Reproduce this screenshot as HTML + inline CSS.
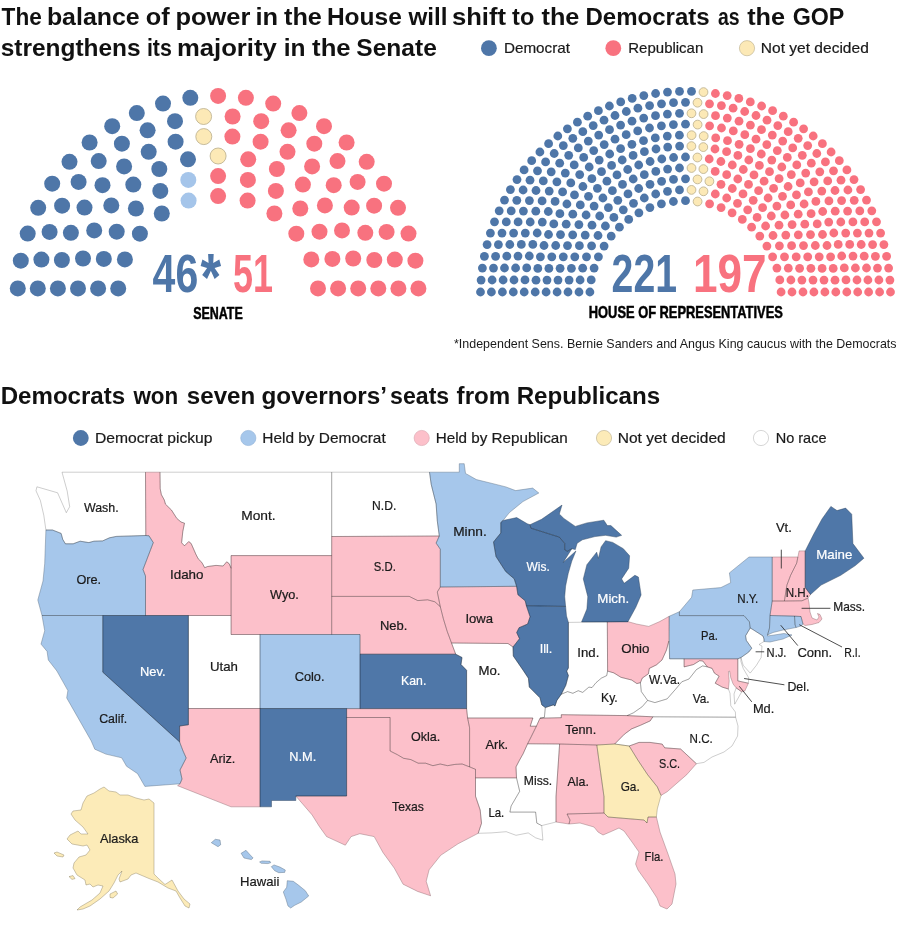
<!DOCTYPE html>
<html lang="en"><head><meta charset="utf-8"><title>Balance of power</title>
<style>html,body{margin:0;padding:0;background:#fff}svg{display:block}text{white-space:pre}</style></head>
<body>
<svg width="900" height="926" viewBox="0 0 900 926" font-family="'Liberation Sans', Arial, sans-serif" fill="#1a1a1a">
<rect width="900" height="926" fill="#fff"/>
<g font-weight="bold" fill="#111">
<text y="24.5" font-size="24.6"><tspan x="1.6" textLength="40.2" lengthAdjust="spacingAndGlyphs">The</tspan> <tspan x="46.9" textLength="92.8" lengthAdjust="spacingAndGlyphs">balance</tspan> <tspan x="145.7" textLength="23.9" lengthAdjust="spacingAndGlyphs">of</tspan> <tspan x="175.5" textLength="74.9" lengthAdjust="spacingAndGlyphs">power</tspan> <tspan x="255.5" textLength="22.6" lengthAdjust="spacingAndGlyphs">in</tspan> <tspan x="284" textLength="37.9" lengthAdjust="spacingAndGlyphs">the</tspan> <tspan x="326.9" textLength="74.9" lengthAdjust="spacingAndGlyphs">House</tspan> <tspan x="408.5" textLength="39.1" lengthAdjust="spacingAndGlyphs">will</tspan> <tspan x="451.9" textLength="54.1" lengthAdjust="spacingAndGlyphs">shift</tspan> <tspan x="512.1" textLength="22.2" lengthAdjust="spacingAndGlyphs">to</tspan> <tspan x="541.5" textLength="37.9" lengthAdjust="spacingAndGlyphs">the</tspan> <tspan x="585.5" textLength="124.1" lengthAdjust="spacingAndGlyphs">Democrats</tspan> <tspan x="718" textLength="21.6" lengthAdjust="spacingAndGlyphs">as</tspan> <tspan x="747.2" textLength="37.9" lengthAdjust="spacingAndGlyphs">the</tspan> <tspan x="792.7" textLength="51.7" lengthAdjust="spacingAndGlyphs">GOP</tspan></text>
<text y="55.5" font-size="24.6"><tspan x="0.7" textLength="139.9" lengthAdjust="spacingAndGlyphs">strengthens</tspan> <tspan x="146.9" textLength="24.9" lengthAdjust="spacingAndGlyphs">its</tspan> <tspan x="176.9" textLength="99.9" lengthAdjust="spacingAndGlyphs">majority</tspan> <tspan x="283.8" textLength="21.8" lengthAdjust="spacingAndGlyphs">in</tspan> <tspan x="312.1" textLength="38.5" lengthAdjust="spacingAndGlyphs">the</tspan> <tspan x="356.3" textLength="80.5" lengthAdjust="spacingAndGlyphs">Senate</tspan></text>
<text y="403.8" font-size="24.6"><tspan x="0.7" textLength="124.5" lengthAdjust="spacingAndGlyphs">Democrats</tspan> <tspan x="133.4" textLength="44.8" lengthAdjust="spacingAndGlyphs">won</tspan> <tspan x="186.8" textLength="68.4" lengthAdjust="spacingAndGlyphs">seven</tspan> <tspan x="261.5" textLength="124.2" lengthAdjust="spacingAndGlyphs">governors’</tspan> <tspan x="390.1" textLength="59.1" lengthAdjust="spacingAndGlyphs">seats</tspan> <tspan x="456.6" textLength="53.6" lengthAdjust="spacingAndGlyphs">from</tspan> <tspan x="516.7" textLength="143.5" lengthAdjust="spacingAndGlyphs">Republicans</tspan></text>
</g>
<g stroke="#1a1a1a" stroke-width="0.2">
<circle cx="488.9" cy="48.2" r="7.9" fill="#4e76a8" stroke="none"/>
<text x="503.9" y="53" font-size="14.6" textLength="66.1" lengthAdjust="spacingAndGlyphs">Democrat</text>
<circle cx="613.3" cy="48.2" r="7.9" fill="#f8727f" stroke="none"/>
<text x="628.3" y="53" font-size="14.6" textLength="75" lengthAdjust="spacingAndGlyphs">Republican</text>
<circle cx="747" cy="48.2" r="7.6" fill="#fce9b6" stroke="#b9ad8c" stroke-width="0.6"/>
<text x="760.8" y="53" font-size="14.6" textLength="108" lengthAdjust="spacingAndGlyphs">Not yet decided</text>
</g>
<g fill="#4e76a8">
<circle cx="118.2" cy="288.4" r="8"/><circle cx="124.9" cy="259.4" r="8"/><circle cx="139.9" cy="233.7" r="8"/><circle cx="161.8" cy="213.5" r="8"/><circle cx="98.1" cy="288.4" r="8"/><circle cx="103.8" cy="258.9" r="8"/><circle cx="116.7" cy="231.7" r="8"/><circle cx="135.9" cy="208.5" r="8"/><circle cx="160.3" cy="190.9" r="8"/><circle cx="78" cy="288.4" r="8"/><circle cx="83" cy="258.5" r="8"/><circle cx="94.2" cy="230.4" r="8"/><circle cx="111.3" cy="205.4" r="8"/><circle cx="133.3" cy="184.6" r="8"/><circle cx="159.3" cy="169" r="8"/><circle cx="188" cy="159.3" r="8"/><circle cx="57.9" cy="288.4" r="8"/><circle cx="61.9" cy="260" r="8"/><circle cx="70.9" cy="232.8" r="8"/><circle cx="84.5" cy="207.6" r="8"/><circle cx="102.5" cy="185.2" r="8"/><circle cx="124.1" cy="166.4" r="8"/><circle cx="148.7" cy="151.8" r="8"/><circle cx="175.6" cy="141.7" r="8"/><circle cx="37.8" cy="288.4" r="8"/><circle cx="41.4" cy="259.6" r="8"/><circle cx="49.6" cy="231.9" r="8"/><circle cx="62.1" cy="205.7" r="8"/><circle cx="78.6" cy="181.9" r="8"/><circle cx="98.7" cy="161.1" r="8"/><circle cx="121.9" cy="143.7" r="8"/><circle cx="147.6" cy="130.3" r="8"/><circle cx="175" cy="121.2" r="8"/><circle cx="17.8" cy="288.4" r="8"/><circle cx="20.8" cy="260.7" r="8"/><circle cx="27.7" cy="233.6" r="8"/><circle cx="38.2" cy="207.8" r="8"/><circle cx="52.2" cy="183.7" r="8"/><circle cx="69.5" cy="161.8" r="8"/><circle cx="89.6" cy="142.5" r="8"/><circle cx="112.2" cy="126.2" r="8"/><circle cx="136.8" cy="113.1" r="8"/><circle cx="163" cy="103.6" r="8"/><circle cx="190.3" cy="97.8" r="8"/>
</g>
<g fill="#a5c5ea">
<circle cx="188.6" cy="200.6" r="8"/><circle cx="188.3" cy="179.9" r="8"/>
</g>
<g fill="#f8727f">
<circle cx="218.1" cy="196.1" r="8"/><circle cx="247.6" cy="200.6" r="8"/><circle cx="274.4" cy="213.5" r="8"/><circle cx="296.3" cy="233.7" r="8"/><circle cx="311.3" cy="259.4" r="8"/><circle cx="318" cy="288.4" r="8"/><circle cx="218.1" cy="176.1" r="8"/><circle cx="247.9" cy="179.9" r="8"/><circle cx="275.9" cy="190.9" r="8"/><circle cx="300.3" cy="208.5" r="8"/><circle cx="319.5" cy="231.7" r="8"/><circle cx="332.4" cy="258.9" r="8"/><circle cx="338.1" cy="288.4" r="8"/><circle cx="248.2" cy="159.3" r="8"/><circle cx="276.9" cy="169" r="8"/><circle cx="302.9" cy="184.6" r="8"/><circle cx="324.9" cy="205.4" r="8"/><circle cx="342" cy="230.4" r="8"/><circle cx="353.2" cy="258.5" r="8"/><circle cx="358.2" cy="288.4" r="8"/><circle cx="232.4" cy="136.6" r="8"/><circle cx="260.6" cy="141.7" r="8"/><circle cx="287.5" cy="151.8" r="8"/><circle cx="312.1" cy="166.4" r="8"/><circle cx="333.7" cy="185.2" r="8"/><circle cx="351.7" cy="207.6" r="8"/><circle cx="365.3" cy="232.8" r="8"/><circle cx="374.3" cy="260" r="8"/><circle cx="378.3" cy="288.4" r="8"/><circle cx="232.6" cy="116.5" r="8"/><circle cx="261.2" cy="121.2" r="8"/><circle cx="288.6" cy="130.3" r="8"/><circle cx="314.3" cy="143.7" r="8"/><circle cx="337.5" cy="161.1" r="8"/><circle cx="357.6" cy="181.9" r="8"/><circle cx="374.1" cy="205.7" r="8"/><circle cx="386.6" cy="231.9" r="8"/><circle cx="394.8" cy="259.6" r="8"/><circle cx="398.4" cy="288.4" r="8"/><circle cx="218.1" cy="95.9" r="8"/><circle cx="245.9" cy="97.8" r="8"/><circle cx="273.2" cy="103.6" r="8"/><circle cx="299.4" cy="113.1" r="8"/><circle cx="324" cy="126.2" r="8"/><circle cx="346.6" cy="142.5" r="8"/><circle cx="366.7" cy="161.8" r="8"/><circle cx="384" cy="183.7" r="8"/><circle cx="398" cy="207.8" r="8"/><circle cx="408.5" cy="233.6" r="8"/><circle cx="415.4" cy="260.7" r="8"/><circle cx="418.4" cy="288.4" r="8"/>
</g>
<g fill="#fce9b6" stroke="#b9ad8c" stroke-width="0.8">
<circle cx="218.1" cy="156" r="8"/><circle cx="203.8" cy="136.6" r="8"/><circle cx="203.6" cy="116.5" r="8"/>
</g>
<g fill="#4e76a8">
<circle cx="589.9" cy="292" r="4.4"/><circle cx="591.2" cy="279.9" r="4.4"/><circle cx="594.1" cy="268.1" r="4.4"/><circle cx="598.4" cy="256.8" r="4.4"/><circle cx="604.1" cy="246.1" r="4.4"/><circle cx="611.2" cy="236.1" r="4.4"/><circle cx="619.4" cy="227.2" r="4.4"/><circle cx="628.7" cy="219.4" r="4.4"/><circle cx="638.9" cy="212.8" r="4.4"/><circle cx="649.9" cy="207.6" r="4.4"/><circle cx="661.4" cy="203.8" r="4.4"/><circle cx="673.4" cy="201.5" r="4.4"/><circle cx="685.5" cy="200.7" r="4.4"/><circle cx="579" cy="292" r="4.4"/><circle cx="580.1" cy="280" r="4.4"/><circle cx="582.7" cy="268.2" r="4.4"/><circle cx="586.5" cy="256.8" r="4.4"/><circle cx="591.6" cy="245.8" r="4.4"/><circle cx="598" cy="235.5" r="4.4"/><circle cx="605.4" cy="226" r="4.4"/><circle cx="613.9" cy="217.4" r="4.4"/><circle cx="623.3" cy="209.8" r="4.4"/><circle cx="633.5" cy="203.3" r="4.4"/><circle cx="644.3" cy="198" r="4.4"/><circle cx="655.7" cy="194" r="4.4"/><circle cx="667.5" cy="191.3" r="4.4"/><circle cx="679.5" cy="189.9" r="4.4"/><circle cx="568" cy="292" r="4.4"/><circle cx="569.1" cy="280.1" r="4.4"/><circle cx="571.4" cy="268.3" r="4.4"/><circle cx="574.8" cy="256.8" r="4.4"/><circle cx="579.4" cy="245.7" r="4.4"/><circle cx="585.2" cy="235.1" r="4.4"/><circle cx="592" cy="225.2" r="4.4"/><circle cx="599.7" cy="216" r="4.4"/><circle cx="608.4" cy="207.7" r="4.4"/><circle cx="617.8" cy="200.3" r="4.4"/><circle cx="628" cy="193.9" r="4.4"/><circle cx="638.7" cy="188.5" r="4.4"/><circle cx="650" cy="184.3" r="4.4"/><circle cx="661.6" cy="181.3" r="4.4"/><circle cx="673.5" cy="179.4" r="4.4"/><circle cx="685.5" cy="178.8" r="4.4"/><circle cx="557.1" cy="292" r="4.4"/><circle cx="558" cy="280.1" r="4.4"/><circle cx="560.1" cy="268.3" r="4.4"/><circle cx="563.3" cy="256.8" r="4.4"/><circle cx="567.5" cy="245.6" r="4.4"/><circle cx="572.7" cy="234.8" r="4.4"/><circle cx="578.9" cy="224.6" r="4.4"/><circle cx="586.1" cy="215" r="4.4"/><circle cx="594.1" cy="206.1" r="4.4"/><circle cx="602.9" cy="198" r="4.4"/><circle cx="612.4" cy="190.7" r="4.4"/><circle cx="622.5" cy="184.4" r="4.4"/><circle cx="633.2" cy="179" r="4.4"/><circle cx="644.3" cy="174.7" r="4.4"/><circle cx="655.8" cy="171.4" r="4.4"/><circle cx="667.6" cy="169.1" r="4.4"/><circle cx="679.5" cy="168" r="4.4"/><circle cx="546.1" cy="292" r="4.4"/><circle cx="547" cy="280.1" r="4.4"/><circle cx="548.9" cy="268.4" r="4.4"/><circle cx="551.8" cy="256.8" r="4.4"/><circle cx="555.7" cy="245.5" r="4.4"/><circle cx="560.5" cy="234.6" r="4.4"/><circle cx="566.2" cy="224.2" r="4.4"/><circle cx="572.8" cy="214.2" r="4.4"/><circle cx="580.3" cy="204.9" r="4.4"/><circle cx="588.5" cy="196.3" r="4.4"/><circle cx="597.4" cy="188.3" r="4.4"/><circle cx="606.9" cy="181.2" r="4.4"/><circle cx="617" cy="174.9" r="4.4"/><circle cx="627.7" cy="169.5" r="4.4"/><circle cx="638.7" cy="165" r="4.4"/><circle cx="650.1" cy="161.5" r="4.4"/><circle cx="661.8" cy="159" r="4.4"/><circle cx="673.6" cy="157.5" r="4.4"/><circle cx="685.5" cy="157" r="4.4"/><circle cx="535.2" cy="292" r="4.4"/><circle cx="536" cy="280.2" r="4.4"/><circle cx="537.8" cy="268.4" r="4.4"/><circle cx="540.4" cy="256.8" r="4.4"/><circle cx="544" cy="245.5" r="4.4"/><circle cx="548.5" cy="234.5" r="4.4"/><circle cx="553.8" cy="223.9" r="4.4"/><circle cx="559.9" cy="213.7" r="4.4"/><circle cx="566.9" cy="204" r="4.4"/><circle cx="574.5" cy="194.9" r="4.4"/><circle cx="582.9" cy="186.5" r="4.4"/><circle cx="591.9" cy="178.7" r="4.4"/><circle cx="601.5" cy="171.7" r="4.4"/><circle cx="611.6" cy="165.4" r="4.4"/><circle cx="622.2" cy="160" r="4.4"/><circle cx="633.1" cy="155.4" r="4.4"/><circle cx="644.4" cy="151.7" r="4.4"/><circle cx="656" cy="149" r="4.4"/><circle cx="667.7" cy="147.1" r="4.4"/><circle cx="679.6" cy="146.1" r="4.4"/><circle cx="524.2" cy="292" r="4.4"/><circle cx="525" cy="279.9" r="4.4"/><circle cx="526.7" cy="267.9" r="4.4"/><circle cx="529.3" cy="256" r="4.4"/><circle cx="532.8" cy="244.4" r="4.4"/><circle cx="537.2" cy="233" r="4.4"/><circle cx="542.3" cy="222.1" r="4.4"/><circle cx="548.3" cy="211.5" r="4.4"/><circle cx="555.1" cy="201.4" r="4.4"/><circle cx="562.6" cy="191.9" r="4.4"/><circle cx="570.8" cy="182.9" r="4.4"/><circle cx="579.7" cy="174.6" r="4.4"/><circle cx="589.2" cy="167" r="4.4"/><circle cx="599.2" cy="160.1" r="4.4"/><circle cx="609.7" cy="154" r="4.4"/><circle cx="620.6" cy="148.7" r="4.4"/><circle cx="631.9" cy="144.3" r="4.4"/><circle cx="643.5" cy="140.7" r="4.4"/><circle cx="655.3" cy="137.9" r="4.4"/><circle cx="667.3" cy="136.1" r="4.4"/><circle cx="679.4" cy="135.2" r="4.4"/><circle cx="513.3" cy="292" r="4.4"/><circle cx="514" cy="280" r="4.4"/><circle cx="515.6" cy="268" r="4.4"/><circle cx="518" cy="256.1" r="4.4"/><circle cx="521.3" cy="244.4" r="4.4"/><circle cx="525.3" cy="233.1" r="4.4"/><circle cx="530.2" cy="222" r="4.4"/><circle cx="535.8" cy="211.2" r="4.4"/><circle cx="542.1" cy="200.9" r="4.4"/><circle cx="549.2" cy="191.1" r="4.4"/><circle cx="556.9" cy="181.8" r="4.4"/><circle cx="565.3" cy="173.1" r="4.4"/><circle cx="574.2" cy="164.9" r="4.4"/><circle cx="583.7" cy="157.4" r="4.4"/><circle cx="593.7" cy="150.6" r="4.4"/><circle cx="604.2" cy="144.6" r="4.4"/><circle cx="615" cy="139.2" r="4.4"/><circle cx="626.2" cy="134.7" r="4.4"/><circle cx="637.7" cy="130.9" r="4.4"/><circle cx="649.5" cy="128" r="4.4"/><circle cx="661.4" cy="125.8" r="4.4"/><circle cx="673.4" cy="124.6" r="4.4"/><circle cx="685.5" cy="124.2" r="4.4"/><circle cx="502.4" cy="292" r="4.4"/><circle cx="503.1" cy="280" r="4.4"/><circle cx="504.5" cy="268" r="4.4"/><circle cx="506.8" cy="256.2" r="4.4"/><circle cx="509.8" cy="244.5" r="4.4"/><circle cx="513.6" cy="233.1" r="4.4"/><circle cx="518.1" cy="221.9" r="4.4"/><circle cx="523.4" cy="211.1" r="4.4"/><circle cx="529.4" cy="200.6" r="4.4"/><circle cx="536" cy="190.5" r="4.4"/><circle cx="543.3" cy="180.9" r="4.4"/><circle cx="551.2" cy="171.8" r="4.4"/><circle cx="559.7" cy="163.2" r="4.4"/><circle cx="568.7" cy="155.3" r="4.4"/><circle cx="578.3" cy="147.9" r="4.4"/><circle cx="588.3" cy="141.1" r="4.4"/><circle cx="598.7" cy="135.1" r="4.4"/><circle cx="609.5" cy="129.7" r="4.4"/><circle cx="620.6" cy="125.1" r="4.4"/><circle cx="632" cy="121.2" r="4.4"/><circle cx="643.7" cy="118.1" r="4.4"/><circle cx="655.5" cy="115.7" r="4.4"/><circle cx="667.4" cy="114.1" r="4.4"/><circle cx="679.5" cy="113.3" r="4.4"/><circle cx="491.4" cy="292" r="4.4"/><circle cx="492.1" cy="280" r="4.4"/><circle cx="493.5" cy="268.1" r="4.4"/><circle cx="495.6" cy="256.3" r="4.4"/><circle cx="498.4" cy="244.6" r="4.4"/><circle cx="502" cy="233.1" r="4.4"/><circle cx="506.3" cy="221.9" r="4.4"/><circle cx="511.2" cy="210.9" r="4.4"/><circle cx="516.8" cy="200.3" r="4.4"/><circle cx="523.1" cy="190" r="4.4"/><circle cx="530" cy="180.2" r="4.4"/><circle cx="537.5" cy="170.8" r="4.4"/><circle cx="545.6" cy="161.9" r="4.4"/><circle cx="554.2" cy="153.5" r="4.4"/><circle cx="563.3" cy="145.6" r="4.4"/><circle cx="572.8" cy="138.3" r="4.4"/><circle cx="582.8" cy="131.7" r="4.4"/><circle cx="593.2" cy="125.6" r="4.4"/><circle cx="604" cy="120.2" r="4.4"/><circle cx="615" cy="115.5" r="4.4"/><circle cx="626.3" cy="111.5" r="4.4"/><circle cx="637.9" cy="108.2" r="4.4"/><circle cx="649.6" cy="105.6" r="4.4"/><circle cx="661.5" cy="103.8" r="4.4"/><circle cx="673.5" cy="102.7" r="4.4"/><circle cx="685.5" cy="102.3" r="4.4"/><circle cx="480.5" cy="292" r="4.4"/><circle cx="481.1" cy="280.1" r="4.4"/><circle cx="482.4" cy="268.1" r="4.4"/><circle cx="484.4" cy="256.3" r="4.4"/><circle cx="487.1" cy="244.6" r="4.4"/><circle cx="490.4" cy="233.1" r="4.4"/><circle cx="494.5" cy="221.8" r="4.4"/><circle cx="499.2" cy="210.8" r="4.4"/><circle cx="504.5" cy="200.1" r="4.4"/><circle cx="510.4" cy="189.6" r="4.4"/><circle cx="517" cy="179.6" r="4.4"/><circle cx="524.1" cy="169.9" r="4.4"/><circle cx="531.7" cy="160.7" r="4.4"/><circle cx="539.9" cy="152" r="4.4"/><circle cx="548.6" cy="143.7" r="4.4"/><circle cx="557.8" cy="136" r="4.4"/><circle cx="567.4" cy="128.8" r="4.4"/><circle cx="577.4" cy="122.2" r="4.4"/><circle cx="587.7" cy="116.2" r="4.4"/><circle cx="598.4" cy="110.7" r="4.4"/><circle cx="609.4" cy="106" r="4.4"/><circle cx="620.7" cy="101.9" r="4.4"/><circle cx="632.2" cy="98.4" r="4.4"/><circle cx="643.8" cy="95.6" r="4.4"/><circle cx="655.6" cy="93.5" r="4.4"/><circle cx="667.5" cy="92.1" r="4.4"/><circle cx="679.5" cy="91.4" r="4.4"/><circle cx="691.5" cy="91.4" r="4.4"/>
</g>
<g fill="#fce9b6" stroke="#b9ad8c" stroke-width="0.8">
<circle cx="697.6" cy="201.5" r="4.4"/><circle cx="691.5" cy="189.9" r="4.4"/><circle cx="703.5" cy="191.3" r="4.4"/><circle cx="697.5" cy="179.4" r="4.4"/><circle cx="709.4" cy="181.3" r="4.4"/><circle cx="691.5" cy="168" r="4.4"/><circle cx="703.4" cy="169.1" r="4.4"/><circle cx="697.4" cy="157.5" r="4.4"/><circle cx="691.4" cy="146.1" r="4.4"/><circle cx="703.3" cy="147.1" r="4.4"/><circle cx="691.6" cy="135.2" r="4.4"/><circle cx="703.7" cy="136.1" r="4.4"/><circle cx="697.6" cy="124.6" r="4.4"/><circle cx="691.5" cy="113.3" r="4.4"/><circle cx="703.6" cy="114.1" r="4.4"/><circle cx="697.5" cy="102.7" r="4.4"/><circle cx="703.5" cy="92.1" r="4.4"/>
</g>
<g fill="#f8727f">
<circle cx="709.6" cy="203.8" r="4.4"/><circle cx="721.1" cy="207.6" r="4.4"/><circle cx="732.1" cy="212.8" r="4.4"/><circle cx="742.3" cy="219.4" r="4.4"/><circle cx="751.6" cy="227.2" r="4.4"/><circle cx="759.8" cy="236.1" r="4.4"/><circle cx="766.9" cy="246.1" r="4.4"/><circle cx="772.6" cy="256.8" r="4.4"/><circle cx="776.9" cy="268.1" r="4.4"/><circle cx="779.8" cy="279.9" r="4.4"/><circle cx="781.1" cy="292" r="4.4"/><circle cx="715.3" cy="194" r="4.4"/><circle cx="726.7" cy="198" r="4.4"/><circle cx="737.5" cy="203.3" r="4.4"/><circle cx="747.7" cy="209.8" r="4.4"/><circle cx="757.1" cy="217.4" r="4.4"/><circle cx="765.6" cy="226" r="4.4"/><circle cx="773" cy="235.5" r="4.4"/><circle cx="779.4" cy="245.8" r="4.4"/><circle cx="784.5" cy="256.8" r="4.4"/><circle cx="788.3" cy="268.2" r="4.4"/><circle cx="790.9" cy="280" r="4.4"/><circle cx="792" cy="292" r="4.4"/><circle cx="721" cy="184.3" r="4.4"/><circle cx="732.3" cy="188.5" r="4.4"/><circle cx="743" cy="193.9" r="4.4"/><circle cx="753.2" cy="200.3" r="4.4"/><circle cx="762.6" cy="207.7" r="4.4"/><circle cx="771.3" cy="216" r="4.4"/><circle cx="779" cy="225.2" r="4.4"/><circle cx="785.8" cy="235.1" r="4.4"/><circle cx="791.6" cy="245.7" r="4.4"/><circle cx="796.2" cy="256.8" r="4.4"/><circle cx="799.6" cy="268.3" r="4.4"/><circle cx="801.9" cy="280.1" r="4.4"/><circle cx="803" cy="292" r="4.4"/><circle cx="715.2" cy="171.4" r="4.4"/><circle cx="726.7" cy="174.7" r="4.4"/><circle cx="737.8" cy="179" r="4.4"/><circle cx="748.5" cy="184.4" r="4.4"/><circle cx="758.6" cy="190.7" r="4.4"/><circle cx="768.1" cy="198" r="4.4"/><circle cx="776.9" cy="206.1" r="4.4"/><circle cx="784.9" cy="215" r="4.4"/><circle cx="792.1" cy="224.6" r="4.4"/><circle cx="798.3" cy="234.8" r="4.4"/><circle cx="803.5" cy="245.6" r="4.4"/><circle cx="807.7" cy="256.8" r="4.4"/><circle cx="810.9" cy="268.3" r="4.4"/><circle cx="813" cy="280.1" r="4.4"/><circle cx="813.9" cy="292" r="4.4"/><circle cx="709.2" cy="159" r="4.4"/><circle cx="720.9" cy="161.5" r="4.4"/><circle cx="732.3" cy="165" r="4.4"/><circle cx="743.3" cy="169.5" r="4.4"/><circle cx="754" cy="174.9" r="4.4"/><circle cx="764.1" cy="181.2" r="4.4"/><circle cx="773.6" cy="188.3" r="4.4"/><circle cx="782.5" cy="196.3" r="4.4"/><circle cx="790.7" cy="204.9" r="4.4"/><circle cx="798.2" cy="214.2" r="4.4"/><circle cx="804.8" cy="224.2" r="4.4"/><circle cx="810.5" cy="234.6" r="4.4"/><circle cx="815.3" cy="245.5" r="4.4"/><circle cx="819.2" cy="256.8" r="4.4"/><circle cx="822.1" cy="268.4" r="4.4"/><circle cx="824" cy="280.1" r="4.4"/><circle cx="824.9" cy="292" r="4.4"/><circle cx="715" cy="149" r="4.4"/><circle cx="726.6" cy="151.7" r="4.4"/><circle cx="737.9" cy="155.4" r="4.4"/><circle cx="748.8" cy="160" r="4.4"/><circle cx="759.4" cy="165.4" r="4.4"/><circle cx="769.5" cy="171.7" r="4.4"/><circle cx="779.1" cy="178.7" r="4.4"/><circle cx="788.1" cy="186.5" r="4.4"/><circle cx="796.5" cy="194.9" r="4.4"/><circle cx="804.1" cy="204" r="4.4"/><circle cx="811.1" cy="213.7" r="4.4"/><circle cx="817.2" cy="223.9" r="4.4"/><circle cx="822.5" cy="234.5" r="4.4"/><circle cx="827" cy="245.5" r="4.4"/><circle cx="830.6" cy="256.8" r="4.4"/><circle cx="833.2" cy="268.4" r="4.4"/><circle cx="835" cy="280.2" r="4.4"/><circle cx="835.8" cy="292" r="4.4"/><circle cx="715.7" cy="137.9" r="4.4"/><circle cx="727.5" cy="140.7" r="4.4"/><circle cx="739.1" cy="144.3" r="4.4"/><circle cx="750.4" cy="148.7" r="4.4"/><circle cx="761.3" cy="154" r="4.4"/><circle cx="771.8" cy="160.1" r="4.4"/><circle cx="781.8" cy="167" r="4.4"/><circle cx="791.3" cy="174.6" r="4.4"/><circle cx="800.2" cy="182.9" r="4.4"/><circle cx="808.4" cy="191.9" r="4.4"/><circle cx="815.9" cy="201.4" r="4.4"/><circle cx="822.7" cy="211.5" r="4.4"/><circle cx="828.7" cy="222.1" r="4.4"/><circle cx="833.8" cy="233" r="4.4"/><circle cx="838.2" cy="244.4" r="4.4"/><circle cx="841.7" cy="256" r="4.4"/><circle cx="844.3" cy="267.9" r="4.4"/><circle cx="846" cy="279.9" r="4.4"/><circle cx="846.8" cy="292" r="4.4"/><circle cx="709.6" cy="125.8" r="4.4"/><circle cx="721.5" cy="128" r="4.4"/><circle cx="733.3" cy="130.9" r="4.4"/><circle cx="744.8" cy="134.7" r="4.4"/><circle cx="756" cy="139.2" r="4.4"/><circle cx="766.8" cy="144.6" r="4.4"/><circle cx="777.3" cy="150.6" r="4.4"/><circle cx="787.3" cy="157.4" r="4.4"/><circle cx="796.8" cy="164.9" r="4.4"/><circle cx="805.7" cy="173.1" r="4.4"/><circle cx="814.1" cy="181.8" r="4.4"/><circle cx="821.8" cy="191.1" r="4.4"/><circle cx="828.9" cy="200.9" r="4.4"/><circle cx="835.2" cy="211.2" r="4.4"/><circle cx="840.8" cy="222" r="4.4"/><circle cx="845.7" cy="233.1" r="4.4"/><circle cx="849.7" cy="244.4" r="4.4"/><circle cx="853" cy="256.1" r="4.4"/><circle cx="855.4" cy="268" r="4.4"/><circle cx="857" cy="280" r="4.4"/><circle cx="857.7" cy="292" r="4.4"/><circle cx="715.5" cy="115.7" r="4.4"/><circle cx="727.3" cy="118.1" r="4.4"/><circle cx="739" cy="121.2" r="4.4"/><circle cx="750.4" cy="125.1" r="4.4"/><circle cx="761.5" cy="129.7" r="4.4"/><circle cx="772.3" cy="135.1" r="4.4"/><circle cx="782.7" cy="141.1" r="4.4"/><circle cx="792.7" cy="147.9" r="4.4"/><circle cx="802.3" cy="155.3" r="4.4"/><circle cx="811.3" cy="163.2" r="4.4"/><circle cx="819.8" cy="171.8" r="4.4"/><circle cx="827.7" cy="180.9" r="4.4"/><circle cx="835" cy="190.5" r="4.4"/><circle cx="841.6" cy="200.6" r="4.4"/><circle cx="847.6" cy="211.1" r="4.4"/><circle cx="852.9" cy="221.9" r="4.4"/><circle cx="857.4" cy="233.1" r="4.4"/><circle cx="861.2" cy="244.5" r="4.4"/><circle cx="864.2" cy="256.2" r="4.4"/><circle cx="866.5" cy="268" r="4.4"/><circle cx="867.9" cy="280" r="4.4"/><circle cx="868.6" cy="292" r="4.4"/><circle cx="709.5" cy="103.8" r="4.4"/><circle cx="721.4" cy="105.6" r="4.4"/><circle cx="733.1" cy="108.2" r="4.4"/><circle cx="744.7" cy="111.5" r="4.4"/><circle cx="756" cy="115.5" r="4.4"/><circle cx="767" cy="120.2" r="4.4"/><circle cx="777.8" cy="125.6" r="4.4"/><circle cx="788.2" cy="131.7" r="4.4"/><circle cx="798.2" cy="138.3" r="4.4"/><circle cx="807.7" cy="145.6" r="4.4"/><circle cx="816.8" cy="153.5" r="4.4"/><circle cx="825.4" cy="161.9" r="4.4"/><circle cx="833.5" cy="170.8" r="4.4"/><circle cx="841" cy="180.2" r="4.4"/><circle cx="847.9" cy="190" r="4.4"/><circle cx="854.2" cy="200.3" r="4.4"/><circle cx="859.8" cy="210.9" r="4.4"/><circle cx="864.7" cy="221.9" r="4.4"/><circle cx="869" cy="233.1" r="4.4"/><circle cx="872.6" cy="244.6" r="4.4"/><circle cx="875.4" cy="256.3" r="4.4"/><circle cx="877.5" cy="268.1" r="4.4"/><circle cx="878.9" cy="280" r="4.4"/><circle cx="879.6" cy="292" r="4.4"/><circle cx="715.4" cy="93.5" r="4.4"/><circle cx="727.2" cy="95.6" r="4.4"/><circle cx="738.8" cy="98.4" r="4.4"/><circle cx="750.3" cy="101.9" r="4.4"/><circle cx="761.6" cy="106" r="4.4"/><circle cx="772.6" cy="110.7" r="4.4"/><circle cx="783.3" cy="116.2" r="4.4"/><circle cx="793.6" cy="122.2" r="4.4"/><circle cx="803.6" cy="128.8" r="4.4"/><circle cx="813.2" cy="136" r="4.4"/><circle cx="822.4" cy="143.7" r="4.4"/><circle cx="831.1" cy="152" r="4.4"/><circle cx="839.3" cy="160.7" r="4.4"/><circle cx="846.9" cy="169.9" r="4.4"/><circle cx="854" cy="179.6" r="4.4"/><circle cx="860.6" cy="189.6" r="4.4"/><circle cx="866.5" cy="200.1" r="4.4"/><circle cx="871.8" cy="210.8" r="4.4"/><circle cx="876.5" cy="221.8" r="4.4"/><circle cx="880.6" cy="233.1" r="4.4"/><circle cx="883.9" cy="244.6" r="4.4"/><circle cx="886.6" cy="256.3" r="4.4"/><circle cx="888.6" cy="268.1" r="4.4"/><circle cx="889.9" cy="280.1" r="4.4"/><circle cx="890.5" cy="292" r="4.4"/>
</g>
<g font-weight="bold">
<text x="152.6" y="292" font-size="53" fill="#4e76a8" textLength="45.6" lengthAdjust="spacingAndGlyphs">46</text>
<text x="200.6" y="299.5" font-size="66" fill="#4e76a8" textLength="20.6" lengthAdjust="spacingAndGlyphs">*</text>
<text x="233" y="292" font-size="53" fill="#f8727f" textLength="40" lengthAdjust="spacingAndGlyphs">51</text>
<text x="611.6" y="292" font-size="53" fill="#4e76a8" textLength="65.4" lengthAdjust="spacingAndGlyphs">221</text>
<text x="693" y="292" font-size="53" fill="#f8727f" textLength="73.6" lengthAdjust="spacingAndGlyphs">197</text>
</g>
<g font-weight="bold" fill="#000" stroke="#000" stroke-width="0.5">
<text x="193.2" y="318.5" font-size="16.2" fill="#000" textLength="49.6" lengthAdjust="spacingAndGlyphs">SENATE</text>
<text x="588.8" y="318.2" font-size="16.2" fill="#000" textLength="194" lengthAdjust="spacingAndGlyphs">HOUSE OF REPRESENTATIVES</text>
</g>
<text x="454" y="347.5" font-size="12.8" textLength="442.5" lengthAdjust="spacingAndGlyphs">*Independent Sens. Bernie Sanders and Angus King caucus with the Democrats</text>
<g stroke="#1a1a1a" stroke-width="0.2">
<circle cx="80.8" cy="438" r="7.9" fill="#4f77a8" stroke="none"/>
<text x="95" y="443" font-size="14.6" textLength="117.5" lengthAdjust="spacingAndGlyphs">Democrat pickup</text>
<circle cx="248.3" cy="438" r="7.6" fill="#a6c7eb" stroke="#8fb0d6" stroke-width="0.6"/>
<text x="262.3" y="443" font-size="14.6" textLength="123.4" lengthAdjust="spacingAndGlyphs">Held by Democrat</text>
<circle cx="421.7" cy="438" r="7.6" fill="#fcc0ca" stroke="#d9a3ad" stroke-width="0.6"/>
<text x="435.7" y="443" font-size="14.6" textLength="132" lengthAdjust="spacingAndGlyphs">Held by Republican</text>
<circle cx="604" cy="438" r="7.6" fill="#fcebb8" stroke="#b9ad8c" stroke-width="0.6"/>
<text x="617.7" y="443" font-size="14.6" textLength="108" lengthAdjust="spacingAndGlyphs">Not yet decided</text>
<circle cx="761" cy="438" r="7.6" fill="#fff" stroke="#bbb" stroke-width="0.6"/>
<text x="775.7" y="443" font-size="14.6" textLength="50.8" lengthAdjust="spacingAndGlyphs">No race</text>
</g>
<g stroke-width="0.3" stroke-linejoin="round">
<g fill="#ffffff" stroke="#ffffff">
<path d="M45.9,530 43.8,515.3 40.4,500.6 36,490.8 36.9,486.8 57.6,492.8 66.3,512.7 69.7,506.7 67.2,491.1 62,472.2 145.5,472.2 145.8,535.5 116.4,536.4 109.5,537.8 102.6,540.9 93.9,541.2 88.8,542.6 80.1,541.2 73.2,543.8 65.4,543.8 62.8,539.5 61.1,533.4 52.5,530 45.9,530Z"/>
<path d="M160,472.2 331.7,472.2 331.7,555.6 231.1,555.6 231.1,568.3 229.1,563.6 226.7,561.8 223.1,566 216,565.4 207.7,566.5 204.7,567.7 201.8,562.4 198.2,558.8 195.8,554.1 191.1,543.4 188.7,541.6 184.5,545.8 181.6,542.8 182.8,531.5 184.5,523.2 181,522 176.8,518.4 171.5,510.1 165.5,504.2 164.3,500 161.4,494.7 160.2,488.8 160,472.2Z"/>
<path d="M188.4,615.5 231.1,615.5 231.1,634.5 260,634.5 260,708.5 188.4,708.5Z"/>
<path d="M331.7,472.2 429.5,472.2 431.2,484.4 436.1,504 437.3,521.1 439.3,536 331.7,536.5Z"/>
<path d="M451.5,643 508,643.5 513,647 513.3,656 523.1,670.2 528.4,678.2 529.3,687.1 540,697.8 541.8,704.9 545.3,707.6 544.4,717.3 540,718.2 536.4,726.2 530.2,726.2 532.9,718 467.6,718 466.6,708.6 466.6,670.3 461,664.5 462,657.5 455.7,654.2 451.5,643Z"/>
<path d="M475.5,777.9 516.5,777.9 519.7,791.3 511.1,806 509.9,812.1 535.6,812.1 536.8,823.1 541.7,825.6 542.9,840.2 535.6,837.8 528.2,832.9 516,835.3 506.2,831.7 491.6,832.9 478.2,833.3 481.5,823.3 480.2,810 475.5,796.2 475.5,777.9Z"/>
<path d="M527.6,743.8 559.6,744 556,796.7 556,822 544,825 541.7,825.6 536.8,823.1 535.6,812.1 509.9,812.1 511.1,806 519.7,791.3 516.5,777.9 516,766.9 519.6,760 523.1,753.8Z"/>
<path d="M652.9,716.8 735.6,717.2 738,726 737.6,736 732,746 724,752 712,757 704,762.4 696.4,763.7 680.6,749 664.7,747.8 662.2,744.1 650,742.4 639,742.4 629.2,746 614.7,744 614.7,744 624.4,734.2 631.6,728.9 640.4,725.3 650.2,720.9 652.9,716.8Z"/>
<path d="M627.1,715.6 561.3,714.7 561.3,717.7 540,718.2 544.4,717.3 545.3,707.6 553.3,704.9 555,706 556.9,700.4 561.3,694.2 567.6,691.6 572.9,693.3 578.2,690.7 582.7,692.4 588.9,687.1 592,687.6 596,682.7 601.3,678.2 606.7,675.6 607.6,671.1 613.8,672.9 620.9,677.3 631.6,680 636.9,683.6 640.4,682.7 641.3,691.6 647.6,700.4 642.2,706.7 633.3,712.9 627.1,715.6Z"/>
<path d="M568.4,622.4 607.3,621.9 607.6,671.1 606.7,675.6 601.3,678.2 596,682.7 592,687.6 588.9,687.1 582.7,692.4 578.2,690.7 572.9,693.3 567.6,691.6 561.3,694.2 565.8,685.3 568.4,675.6 566.7,671.1 568.4,668 568.4,622.4Z"/>
<path d="M640.4,682.7 642.2,678.2 648.4,673.8 649.3,668.4 656.4,664.9 662,660 666.5,650 668.8,641 669.6,658.8 684.1,658.8 684.1,666.9 693.4,664.6 699.7,660.7 702.8,661 707.4,666.9 702.6,665.9 696.4,669.6 689,679 681.8,681.8 675.7,689.1 667.1,698.9 654.9,702.6 647.6,700.4 641.3,691.6Z"/>
<path d="M647.6,700.4 654.9,702.6 667.1,698.9 675.7,689.1 681.8,681.8 689,679 696.4,669.6 702.6,665.9 707.4,666.9 712.1,668.4 714.4,673.1 719.1,676.2 715.2,683.2 722.2,687.1 728.4,689 730,693.3 730.8,705.8 735.4,712 735.6,717.2 652.9,716.8 627.1,715.6 633.3,712.9 642.2,706.7 647.6,700.4ZM741.7,691.8 736.2,687.9 734,694 734.7,704.2Z"/>
<path d="M737.8,658.8 740.9,657.6 740.9,661.4 743.2,668.4 748.7,677.8 748.4,683.2 737.8,680.9Z"/>
<path d="M750.2,628 752,629 763,636 764,639 764,641.5 761.5,643 759,644.5 762,646 761.1,657.6 756.4,665.3 750.2,673.1 743.2,665.3 740.9,657.6 748.7,652.1 751.8,648.2 746.3,640.4 745.6,635.8Z"/>
</g>
<g fill="#fcc0ca" stroke="#fcc0ca">
<path d="M145.5,472.2 160,472.2 160.2,488.8 161.4,494.7 164.3,500 165.5,504.2 171.5,510.1 176.8,518.4 181,522 184.5,523.2 182.8,531.5 181.6,542.8 184.5,545.8 188.7,541.6 191.1,543.4 195.8,554.1 198.2,558.8 201.8,562.4 204.7,567.7 207.7,566.5 216,565.4 223.1,566 226.7,561.8 229.1,563.6 231.1,568.3 231.1,615.5 145.5,615.5 145.5,615.5 145.5,576 143,569.5 153.3,542.6 149,535.8 145.8,535.5Z"/>
<path d="M231.1,555.6 331.7,555.6 331.7,634.5 231.1,634.5Z"/>
<path d="M188.4,708.5 260,708.5 260,806.8 231,806.8 177.6,785.7 180,783.8 182,779 180,770 186.2,758 182.8,750.4 179.6,741.9 179.6,726 188.4,724.8Z"/>
<path d="M331.7,536.5 439.3,536 436.1,543.1 440.3,549.2 440.3,587 437.3,592 440.3,606.7 440.3,606.7 434.9,601.8 427.6,599.8 417.8,600.6 409.2,596.4 331.7,596.4Z"/>
<path d="M331.7,596.4 409.2,596.4 417.8,600.6 427.6,599.8 434.9,601.8 440.3,606.7 443.4,618.9 447.1,631.1 451.5,643 455.7,654.2 360,654.2 360,634.5 331.7,634.5Z"/>
<path d="M346.6,708.6 466.6,708.6 467.6,718 469.6,727.8 469.6,766.9 462.2,764 454.9,764.4 447.6,765.7 440.2,764 432.9,765.7 425.6,763.2 418.2,763.2 410.9,759.6 403.6,758.3 397.4,754.7 390.1,751 390.1,717.5 346.6,717.5Z"/>
<path d="M346.6,717.5 390.1,717.5 390.1,751 397.4,754.7 403.6,758.3 410.9,759.6 418.2,763.2 425.6,763.2 432.9,765.7 440.2,764 447.6,765.7 454.9,764.4 462.2,764 469.6,766.9 475.5,769.3 475.5,777.9 475.5,796.2 480.2,810 481.5,823.3 478.2,833.3 458,843.8 440.7,855.3 429.1,869.8 426.2,881.3 430.6,895.8 417.6,891.4 403.1,884.2 394.4,868.3 382.9,852.4 374.2,836.6 359.8,833.7 351.1,836.6 345.3,845.2 326.6,836.6 319.3,826.4 312.1,814.9 295.8,796 346.6,796Z"/>
<path d="M440.3,587 516.6,586.3 517.9,594.7 525.2,600.8 526.4,605.7 530.1,616.7 527.7,624 519.1,627.7 516.7,632.6 519.5,638.7 513,647 508,643.5 451.5,643 447.1,631.1 443.4,618.9 440.3,606.7 437.3,592 440.3,587Z"/>
<path d="M467.6,718 532.9,718 530.2,726.2 536.4,726.2 531.1,736.9 527.6,743.8 523.1,753.8 519.6,760 516,766.9 516.5,777.9 475.5,777.9 475.5,769.3 469.6,766.9 469.6,727.8 467.6,718Z"/>
<path d="M559.6,744 596.8,745 604,796.7 604,813 567,814 570,820 569,824 556,822 556,796.7 559.6,744Z"/>
<path d="M569,824 570,820 567,814 604,813 608,817 644,820 647,823 648,817 656.4,817 660,832 668,854 675,874 676,884 672,904 667,909 660,906 657,898 648,884 638,870 635.6,864 639,852 632,842 624,831 619,828 610,832 603,835 598,832 594,827 580,823 569,824Z"/>
<path d="M629.2,746 639,742.4 650,742.4 662.2,744.1 664.7,747.8 680.6,749 696.4,763.7 686.7,774.7 676.9,783.2 667.1,791.8 661,795.4 657.3,786.9 647.6,774.7 637.8,760 629.2,746Z"/>
<path d="M540,718.2 561.3,717.7 561.3,714.7 627.1,715.6 652.9,716.8 650.2,720.9 640.4,725.3 631.6,728.9 624.4,734.2 614.7,744 596.8,745 559.6,744 527.6,743.8 531.1,736.9 536.4,726.2Z"/>
<path d="M607.3,621.9 626.7,621.3 636.4,624 648.7,626.4 659.7,621.6 669.2,616.3 668.8,641 666.5,650 662,660 656.4,664.9 649.3,668.4 648.4,673.8 642.2,678.2 640.4,682.7 636.9,683.6 631.6,680 620.9,677.3 613.8,672.9 607.6,671.1 607.3,621.9Z"/>
<path d="M684.1,658.8 737.8,658.8 737.8,680.9 748.4,683.2 744.8,691 741.7,691.8 736.2,687.9 733.1,684 730.8,677.8 729.6,671 728.4,671.6 729.2,680.9 728.4,689 722.2,687.1 715.2,683.2 719.1,676.2 714.4,673.1 712.1,668.4 707.4,666.9 702.8,661 699.7,660.7 693.4,664.6 684.1,666.9 684.1,658.8Z"/>
<path d="M772.2,557 797.9,557 796.7,563.1 790.6,575.3 786.9,585.1 784.4,601 772.2,601Z"/>
<path d="M797.9,557 799.1,550.9 805.2,550.9 805.2,587.6 810.5,594.5 808,598 802,600.8 784.4,601 786.9,585.1 790.6,575.3 796.7,563.1Z"/>
<path d="M772.2,601 784.4,601 802,600.8 808,598 809,603 810,612 812,618 817,620 819,617 817.5,613.5 820,614.5 822,619 819,622.5 812,624.5 805,625.5 803,624 801,616.5 770,615.5Z"/>
</g>
<g fill="#a6c7eb" stroke="#a6c7eb">
<path d="M45.9,530 52.5,530 61.1,533.4 62.8,539.5 65.4,543.8 73.2,543.8 80.1,541.2 88.8,542.6 93.9,541.2 102.6,540.9 109.5,537.8 116.4,536.4 145.8,535.5 149,535.8 153.3,542.6 143,569.5 145.5,576 145.5,615.5 42,615.5 37.8,600 43,581 44.7,563.7 45.9,530Z"/>
<path d="M42,615.5 102.8,615.5 102.8,672.2 179.6,741.9 182.8,750.4 186.2,758 180,770 182,779 180,783.8 144.9,786.4 137.6,773.7 126.6,766.3 121.7,757.8 105.8,754.1 94.8,749.2 91.1,740.7 66.7,697.9 67.9,690.6 56.9,671 48.3,660 47.1,651.4 41,644.1 44.7,630.7 42,615.5Z"/>
<path d="M260,634.5 360,634.5 360,708.6 260,708.6Z"/>
<path d="M429.5,472.2 459.3,472.2 459.3,463.7 464.2,463.7 465.5,473.4 476.4,479.6 491.1,483.2 505.8,486.9 515.6,490.6 532.7,488.1 538.8,493 522.9,501.6 509.4,512.6 503,520.5 500.8,522.5 500.8,533 493.5,542 496,556.5 505.7,571.5 514.2,578.8 516.6,586.3 440.3,587 440.3,549.2 436.1,543.1 439.3,536 437.3,521.1 436.1,504 431.2,484.4 429.5,472.2Z"/>
<path d="M669.2,616.3 679.4,611.7 679.4,615.6 744,615.6 749.4,621.8 750.2,628 745.6,635.8 746.3,640.4 751.8,648.2 748.7,652.1 740.9,657.6 737.8,658.8 669.6,658.8Z"/>
<path d="M772.2,557 749,557 729.4,572.9 730.7,582.7 720.9,587.6 692.8,590 691.6,597.3 679.4,611.7 679.4,615.6 744,615.6 749.4,621.8 750.2,628 752,629 763,636 764,639 764,641.5 770,642 783,639 792,635 784,633.5 767.5,636 767.5,635 769.5,628 770,615.5 772.2,601Z"/>
<path d="M770,615.5 794.5,616 795,624.5 796,627.5 783,630 773,632.5 767.5,635 769.5,628Z"/>
<path d="M794.5,616 801,616.5 803,624 801,626 796,627.5 795,624.5Z"/>
<path d="M211.3,842.7 215.3,839.3 220,840 220.7,844.7 218,846.7ZM241.1,853.3 246,850.3 249.3,854 253.1,858 251.3,859.6 244,858ZM259.6,862 262,860.9 270,861.3 270.7,862.7 268,863.6 261.3,863.3ZM271.3,866.7 274,864.9 280,867.1 285.3,870 284.7,872.4 278.7,872.7 274.7,870.7ZM287.3,880.7 293.3,881.3 298.7,885.3 305.3,890.7 308.7,896 301.3,902 294.7,905.3 290.7,908 288,906 286,899.3 283.3,892 286.7,887.3Z"/>
</g>
<g fill="#fcebb8" stroke="#fcebb8">
<path d="M596.8,745 614.7,744 629.2,746 637.8,760 647.6,774.7 657.3,786.9 661,795.4 657.3,808.9 656.4,817 648,817 647,823 644,820 608,817 604,813 604,796.7 596.8,745Z"/>
<path d="M104,787 109,791 116,792 120,795 128,795 136,798 144,800 149,799 154,803 154,874 158,878 165,884.5 172,880 178,891 184,899 190,904 189,908 185,906 180,898 176,891 168,888 158,882 149,878.5 136,873 131,875 128,879 120,882 119,879 122,871 118,875 114,883 109,891 100,899 90,906 83,909 77,910 80,907 92,900 100,893 103,886 98,885 93,887 90,884 86,885 85,880 77,875 73,868 74,863 79,857 86,855 90,850 87,845 83,846 72,844 67,839 70,835 78,831 81,834 88,834 83,827 75,820 71,814 73,811 81,810 83,803 87,796 94,793 100,789ZM54,853 57,852 64,855 63,857 57,856ZM69,876.6 73,875.6 75,878.6 72,879.4ZM110,894 116,891 117.6,894 113,898 110,897.4Z"/>
</g>
<g fill="#4f77a8" stroke="#4f77a8">
<path d="M102.8,615.5 188.4,615.5 188.4,724.8 179.6,726 179.6,741.9 102.8,672.2Z"/>
<path d="M260,708.5 346.6,708.5 346.6,796 295.8,796 295.8,800.5 271.5,800.5 271.5,806.8 260,806.8Z"/>
<path d="M360,654.2 455.7,654.2 462,657.5 461,664.5 466.6,670.3 466.6,708.6 360,708.6Z"/>
<path d="M526.4,605.7 565.6,606.4 566.5,616 568.4,622.4 568.4,668 566.7,671.1 568.4,675.6 565.8,685.3 561.3,694.2 556.9,700.4 555,706 553.3,704.9 545.3,707.6 541.8,704.9 540,697.8 529.3,687.1 528.4,678.2 523.1,670.2 513.3,656 513,647 519.5,638.7 516.7,632.6 519.1,627.7 527.7,624 530.1,616.7 526.4,605.7Z"/>
<path d="M503,520.5 516.7,517.6 527.3,523.8 530,524.7 530.9,528.2 559.3,537.1 564.7,543.3 564.7,549.6 567.3,551.3 571.8,548.7 563.2,562.5 575.9,551 571.8,561.1 568.2,573.6 565.6,586 564.7,596.7 565.6,606.4 526.4,605.7 525.2,600.8 517.9,594.7 516.6,586.3 514.2,578.8 505.7,571.5 496,556.5 493.5,542 500.8,533 500.8,522.5Z"/>
<path d="M530,524.7 541.6,519.3 562,505.1 559.3,514 563.8,518.4 575.3,526.4 586.9,522.9 603.8,520.2 607.3,525.6 610.9,525.6 621.6,535.3 616.2,537.1 605.6,535.3 594.9,536.6 582.4,539.8 577.1,543.3 575.3,549.6 571.8,548.7 567.3,551.3 564.7,549.6 564.7,543.3 559.3,537.1 530.9,528.2ZM581.6,621.9 586.9,609.1 587.8,596.7 583.3,578.9 586.9,564.7 596.7,552.2 598.4,558.4 601.1,546.9 605.6,540.7 612.7,542.4 623.3,548.7 629.6,555.8 628.7,568.2 621.6,578.9 624.2,583.3 634.9,575.3 638.4,577.1 641.1,594.9 635.8,607.3 627.8,621.9Z"/>
<path d="M805.2,550.9 813.5,534.5 822,519 830.9,506.4 837,510.6 845.6,508.1 851.7,514.2 852.9,543.6 863.9,558.2 855.3,565.6 840.7,575.3 821.1,585.1 810.5,594.5 805.2,587.6Z"/>
</g>
</g>
<g fill="none" stroke="#000" stroke-width="0.55" stroke-linejoin="round" opacity="0.36">
<path d="M45.9,530 43.8,515.3 40.4,500.6 36,490.8 36.9,486.8 57.6,492.8 66.3,512.7 69.7,506.7 67.2,491.1 62,472.2 145.5,472.2 145.8,535.5 116.4,536.4 109.5,537.8 102.6,540.9 93.9,541.2 88.8,542.6 80.1,541.2 73.2,543.8 65.4,543.8 62.8,539.5 61.1,533.4 52.5,530 45.9,530ZM45.9,530 52.5,530 61.1,533.4 62.8,539.5 65.4,543.8 73.2,543.8 80.1,541.2 88.8,542.6 93.9,541.2 102.6,540.9 109.5,537.8 116.4,536.4 145.8,535.5 149,535.8 153.3,542.6 143,569.5 145.5,576 145.5,615.5 42,615.5 37.8,600 43,581 44.7,563.7 45.9,530ZM145.5,472.2 160,472.2 160.2,488.8 161.4,494.7 164.3,500 165.5,504.2 171.5,510.1 176.8,518.4 181,522 184.5,523.2 182.8,531.5 181.6,542.8 184.5,545.8 188.7,541.6 191.1,543.4 195.8,554.1 198.2,558.8 201.8,562.4 204.7,567.7 207.7,566.5 216,565.4 223.1,566 226.7,561.8 229.1,563.6 231.1,568.3 231.1,615.5 145.5,615.5 145.5,615.5 145.5,576 143,569.5 153.3,542.6 149,535.8 145.8,535.5ZM160,472.2 331.7,472.2 331.7,555.6 231.1,555.6 231.1,568.3 229.1,563.6 226.7,561.8 223.1,566 216,565.4 207.7,566.5 204.7,567.7 201.8,562.4 198.2,558.8 195.8,554.1 191.1,543.4 188.7,541.6 184.5,545.8 181.6,542.8 182.8,531.5 184.5,523.2 181,522 176.8,518.4 171.5,510.1 165.5,504.2 164.3,500 161.4,494.7 160.2,488.8 160,472.2ZM231.1,555.6 331.7,555.6 331.7,634.5 231.1,634.5ZM188.4,615.5 231.1,615.5 231.1,634.5 260,634.5 260,708.5 188.4,708.5ZM102.8,615.5 188.4,615.5 188.4,724.8 179.6,726 179.6,741.9 102.8,672.2ZM42,615.5 102.8,615.5 102.8,672.2 179.6,741.9 182.8,750.4 186.2,758 180,770 182,779 180,783.8 144.9,786.4 137.6,773.7 126.6,766.3 121.7,757.8 105.8,754.1 94.8,749.2 91.1,740.7 66.7,697.9 67.9,690.6 56.9,671 48.3,660 47.1,651.4 41,644.1 44.7,630.7 42,615.5ZM188.4,708.5 260,708.5 260,806.8 231,806.8 177.6,785.7 180,783.8 182,779 180,770 186.2,758 182.8,750.4 179.6,741.9 179.6,726 188.4,724.8ZM260,708.5 346.6,708.5 346.6,796 295.8,796 295.8,800.5 271.5,800.5 271.5,806.8 260,806.8ZM260,634.5 360,634.5 360,708.6 260,708.6ZM331.7,472.2 429.5,472.2 431.2,484.4 436.1,504 437.3,521.1 439.3,536 331.7,536.5ZM331.7,536.5 439.3,536 436.1,543.1 440.3,549.2 440.3,587 437.3,592 440.3,606.7 440.3,606.7 434.9,601.8 427.6,599.8 417.8,600.6 409.2,596.4 331.7,596.4ZM331.7,596.4 409.2,596.4 417.8,600.6 427.6,599.8 434.9,601.8 440.3,606.7 443.4,618.9 447.1,631.1 451.5,643 455.7,654.2 360,654.2 360,634.5 331.7,634.5ZM360,654.2 455.7,654.2 462,657.5 461,664.5 466.6,670.3 466.6,708.6 360,708.6ZM346.6,708.6 466.6,708.6 467.6,718 469.6,727.8 469.6,766.9 462.2,764 454.9,764.4 447.6,765.7 440.2,764 432.9,765.7 425.6,763.2 418.2,763.2 410.9,759.6 403.6,758.3 397.4,754.7 390.1,751 390.1,717.5 346.6,717.5ZM346.6,717.5 390.1,717.5 390.1,751 397.4,754.7 403.6,758.3 410.9,759.6 418.2,763.2 425.6,763.2 432.9,765.7 440.2,764 447.6,765.7 454.9,764.4 462.2,764 469.6,766.9 475.5,769.3 475.5,777.9 475.5,796.2 480.2,810 481.5,823.3 478.2,833.3 458,843.8 440.7,855.3 429.1,869.8 426.2,881.3 430.6,895.8 417.6,891.4 403.1,884.2 394.4,868.3 382.9,852.4 374.2,836.6 359.8,833.7 351.1,836.6 345.3,845.2 326.6,836.6 319.3,826.4 312.1,814.9 295.8,796 346.6,796ZM429.5,472.2 459.3,472.2 459.3,463.7 464.2,463.7 465.5,473.4 476.4,479.6 491.1,483.2 505.8,486.9 515.6,490.6 532.7,488.1 538.8,493 522.9,501.6 509.4,512.6 503,520.5 500.8,522.5 500.8,533 493.5,542 496,556.5 505.7,571.5 514.2,578.8 516.6,586.3 440.3,587 440.3,549.2 436.1,543.1 439.3,536 437.3,521.1 436.1,504 431.2,484.4 429.5,472.2ZM440.3,587 516.6,586.3 517.9,594.7 525.2,600.8 526.4,605.7 530.1,616.7 527.7,624 519.1,627.7 516.7,632.6 519.5,638.7 513,647 508,643.5 451.5,643 447.1,631.1 443.4,618.9 440.3,606.7 437.3,592 440.3,587ZM451.5,643 508,643.5 513,647 513.3,656 523.1,670.2 528.4,678.2 529.3,687.1 540,697.8 541.8,704.9 545.3,707.6 544.4,717.3 540,718.2 536.4,726.2 530.2,726.2 532.9,718 467.6,718 466.6,708.6 466.6,670.3 461,664.5 462,657.5 455.7,654.2 451.5,643ZM467.6,718 532.9,718 530.2,726.2 536.4,726.2 531.1,736.9 527.6,743.8 523.1,753.8 519.6,760 516,766.9 516.5,777.9 475.5,777.9 475.5,769.3 469.6,766.9 469.6,727.8 467.6,718ZM475.5,777.9 516.5,777.9 519.7,791.3 511.1,806 509.9,812.1 535.6,812.1 536.8,823.1 541.7,825.6 542.9,840.2 535.6,837.8 528.2,832.9 516,835.3 506.2,831.7 491.6,832.9 478.2,833.3 481.5,823.3 480.2,810 475.5,796.2 475.5,777.9ZM527.6,743.8 559.6,744 556,796.7 556,822 544,825 541.7,825.6 536.8,823.1 535.6,812.1 509.9,812.1 511.1,806 519.7,791.3 516.5,777.9 516,766.9 519.6,760 523.1,753.8ZM559.6,744 596.8,745 604,796.7 604,813 567,814 570,820 569,824 556,822 556,796.7 559.6,744ZM569,824 570,820 567,814 604,813 608,817 644,820 647,823 648,817 656.4,817 660,832 668,854 675,874 676,884 672,904 667,909 660,906 657,898 648,884 638,870 635.6,864 639,852 632,842 624,831 619,828 610,832 603,835 598,832 594,827 580,823 569,824ZM596.8,745 614.7,744 629.2,746 637.8,760 647.6,774.7 657.3,786.9 661,795.4 657.3,808.9 656.4,817 648,817 647,823 644,820 608,817 604,813 604,796.7 596.8,745ZM629.2,746 639,742.4 650,742.4 662.2,744.1 664.7,747.8 680.6,749 696.4,763.7 686.7,774.7 676.9,783.2 667.1,791.8 661,795.4 657.3,786.9 647.6,774.7 637.8,760 629.2,746ZM652.9,716.8 735.6,717.2 738,726 737.6,736 732,746 724,752 712,757 704,762.4 696.4,763.7 680.6,749 664.7,747.8 662.2,744.1 650,742.4 639,742.4 629.2,746 614.7,744 614.7,744 624.4,734.2 631.6,728.9 640.4,725.3 650.2,720.9 652.9,716.8ZM540,718.2 561.3,717.7 561.3,714.7 627.1,715.6 652.9,716.8 650.2,720.9 640.4,725.3 631.6,728.9 624.4,734.2 614.7,744 596.8,745 559.6,744 527.6,743.8 531.1,736.9 536.4,726.2ZM627.1,715.6 561.3,714.7 561.3,717.7 540,718.2 544.4,717.3 545.3,707.6 553.3,704.9 555,706 556.9,700.4 561.3,694.2 567.6,691.6 572.9,693.3 578.2,690.7 582.7,692.4 588.9,687.1 592,687.6 596,682.7 601.3,678.2 606.7,675.6 607.6,671.1 613.8,672.9 620.9,677.3 631.6,680 636.9,683.6 640.4,682.7 641.3,691.6 647.6,700.4 642.2,706.7 633.3,712.9 627.1,715.6ZM526.4,605.7 565.6,606.4 566.5,616 568.4,622.4 568.4,668 566.7,671.1 568.4,675.6 565.8,685.3 561.3,694.2 556.9,700.4 555,706 553.3,704.9 545.3,707.6 541.8,704.9 540,697.8 529.3,687.1 528.4,678.2 523.1,670.2 513.3,656 513,647 519.5,638.7 516.7,632.6 519.1,627.7 527.7,624 530.1,616.7 526.4,605.7ZM568.4,622.4 607.3,621.9 607.6,671.1 606.7,675.6 601.3,678.2 596,682.7 592,687.6 588.9,687.1 582.7,692.4 578.2,690.7 572.9,693.3 567.6,691.6 561.3,694.2 565.8,685.3 568.4,675.6 566.7,671.1 568.4,668 568.4,622.4ZM607.3,621.9 626.7,621.3 636.4,624 648.7,626.4 659.7,621.6 669.2,616.3 668.8,641 666.5,650 662,660 656.4,664.9 649.3,668.4 648.4,673.8 642.2,678.2 640.4,682.7 636.9,683.6 631.6,680 620.9,677.3 613.8,672.9 607.6,671.1 607.3,621.9ZM503,520.5 516.7,517.6 527.3,523.8 530,524.7 530.9,528.2 559.3,537.1 564.7,543.3 564.7,549.6 567.3,551.3 571.8,548.7 563.2,562.5 575.9,551 571.8,561.1 568.2,573.6 565.6,586 564.7,596.7 565.6,606.4 526.4,605.7 525.2,600.8 517.9,594.7 516.6,586.3 514.2,578.8 505.7,571.5 496,556.5 493.5,542 500.8,533 500.8,522.5ZM530,524.7 541.6,519.3 562,505.1 559.3,514 563.8,518.4 575.3,526.4 586.9,522.9 603.8,520.2 607.3,525.6 610.9,525.6 621.6,535.3 616.2,537.1 605.6,535.3 594.9,536.6 582.4,539.8 577.1,543.3 575.3,549.6 571.8,548.7 567.3,551.3 564.7,549.6 564.7,543.3 559.3,537.1 530.9,528.2ZM581.6,621.9 586.9,609.1 587.8,596.7 583.3,578.9 586.9,564.7 596.7,552.2 598.4,558.4 601.1,546.9 605.6,540.7 612.7,542.4 623.3,548.7 629.6,555.8 628.7,568.2 621.6,578.9 624.2,583.3 634.9,575.3 638.4,577.1 641.1,594.9 635.8,607.3 627.8,621.9ZM640.4,682.7 642.2,678.2 648.4,673.8 649.3,668.4 656.4,664.9 662,660 666.5,650 668.8,641 669.6,658.8 684.1,658.8 684.1,666.9 693.4,664.6 699.7,660.7 702.8,661 707.4,666.9 702.6,665.9 696.4,669.6 689,679 681.8,681.8 675.7,689.1 667.1,698.9 654.9,702.6 647.6,700.4 641.3,691.6ZM647.6,700.4 654.9,702.6 667.1,698.9 675.7,689.1 681.8,681.8 689,679 696.4,669.6 702.6,665.9 707.4,666.9 712.1,668.4 714.4,673.1 719.1,676.2 715.2,683.2 722.2,687.1 728.4,689 730,693.3 730.8,705.8 735.4,712 735.6,717.2 652.9,716.8 627.1,715.6 633.3,712.9 642.2,706.7 647.6,700.4ZM741.7,691.8 736.2,687.9 734,694 734.7,704.2ZM684.1,658.8 737.8,658.8 737.8,680.9 748.4,683.2 744.8,691 741.7,691.8 736.2,687.9 733.1,684 730.8,677.8 729.6,671 728.4,671.6 729.2,680.9 728.4,689 722.2,687.1 715.2,683.2 719.1,676.2 714.4,673.1 712.1,668.4 707.4,666.9 702.8,661 699.7,660.7 693.4,664.6 684.1,666.9 684.1,658.8ZM737.8,658.8 740.9,657.6 740.9,661.4 743.2,668.4 748.7,677.8 748.4,683.2 737.8,680.9ZM750.2,628 752,629 763,636 764,639 764,641.5 761.5,643 759,644.5 762,646 761.1,657.6 756.4,665.3 750.2,673.1 743.2,665.3 740.9,657.6 748.7,652.1 751.8,648.2 746.3,640.4 745.6,635.8ZM669.2,616.3 679.4,611.7 679.4,615.6 744,615.6 749.4,621.8 750.2,628 745.6,635.8 746.3,640.4 751.8,648.2 748.7,652.1 740.9,657.6 737.8,658.8 669.6,658.8ZM772.2,557 749,557 729.4,572.9 730.7,582.7 720.9,587.6 692.8,590 691.6,597.3 679.4,611.7 679.4,615.6 744,615.6 749.4,621.8 750.2,628 752,629 763,636 764,639 764,641.5 770,642 783,639 792,635 784,633.5 767.5,636 767.5,635 769.5,628 770,615.5 772.2,601ZM772.2,557 797.9,557 796.7,563.1 790.6,575.3 786.9,585.1 784.4,601 772.2,601ZM797.9,557 799.1,550.9 805.2,550.9 805.2,587.6 810.5,594.5 808,598 802,600.8 784.4,601 786.9,585.1 790.6,575.3 796.7,563.1ZM805.2,550.9 813.5,534.5 822,519 830.9,506.4 837,510.6 845.6,508.1 851.7,514.2 852.9,543.6 863.9,558.2 855.3,565.6 840.7,575.3 821.1,585.1 810.5,594.5 805.2,587.6ZM772.2,601 784.4,601 802,600.8 808,598 809,603 810,612 812,618 817,620 819,617 817.5,613.5 820,614.5 822,619 819,622.5 812,624.5 805,625.5 803,624 801,616.5 770,615.5ZM770,615.5 794.5,616 795,624.5 796,627.5 783,630 773,632.5 767.5,635 769.5,628ZM794.5,616 801,616.5 803,624 801,626 796,627.5 795,624.5ZM104,787 109,791 116,792 120,795 128,795 136,798 144,800 149,799 154,803 154,874 158,878 165,884.5 172,880 178,891 184,899 190,904 189,908 185,906 180,898 176,891 168,888 158,882 149,878.5 136,873 131,875 128,879 120,882 119,879 122,871 118,875 114,883 109,891 100,899 90,906 83,909 77,910 80,907 92,900 100,893 103,886 98,885 93,887 90,884 86,885 85,880 77,875 73,868 74,863 79,857 86,855 90,850 87,845 83,846 72,844 67,839 70,835 78,831 81,834 88,834 83,827 75,820 71,814 73,811 81,810 83,803 87,796 94,793 100,789ZM54,853 57,852 64,855 63,857 57,856ZM69,876.6 73,875.6 75,878.6 72,879.4ZM110,894 116,891 117.6,894 113,898 110,897.4ZM211.3,842.7 215.3,839.3 220,840 220.7,844.7 218,846.7ZM241.1,853.3 246,850.3 249.3,854 253.1,858 251.3,859.6 244,858ZM259.6,862 262,860.9 270,861.3 270.7,862.7 268,863.6 261.3,863.3ZM271.3,866.7 274,864.9 280,867.1 285.3,870 284.7,872.4 278.7,872.7 274.7,870.7ZM287.3,880.7 293.3,881.3 298.7,885.3 305.3,890.7 308.7,896 301.3,902 294.7,905.3 290.7,908 288,906 286,899.3 283.3,892 286.7,887.3Z"/>
</g>
<g stroke="#222" stroke-width="0.8" fill="none">
<path d="M781.3,549.7L781.3,568.5"/>
<path d="M801.6,608.3L830.4,608.3"/>
<path d="M780.7,625.2L797.8,645.6"/>
<path d="M799.3,624.7L842,647"/>
<path d="M755.6,651.8L764.2,651.8"/>
<path d="M744.1,678.5L784.4,684.8"/>
<path d="M739.3,686.3L751.8,701.9"/>
</g>
<g font-size="13.4" stroke="#1a1a1a" stroke-width="0.22">
<text x="83.9" y="511.5" textLength="34.7" lengthAdjust="spacingAndGlyphs">Wash.</text>
<text x="76.4" y="583.8" textLength="24.7" lengthAdjust="spacingAndGlyphs">Ore.</text>
<text x="170" y="579.4" textLength="33.5" lengthAdjust="spacingAndGlyphs">Idaho</text>
<text x="241.2" y="520.2" textLength="34.4" lengthAdjust="spacingAndGlyphs">Mont.</text>
<text x="270" y="599.2" textLength="28.9" lengthAdjust="spacingAndGlyphs">Wyo.</text>
<text x="140" y="675.5" textLength="25.5" lengthAdjust="spacingAndGlyphs" fill="#fff" stroke="#fff">Nev.</text>
<text x="210" y="671.3" textLength="28" lengthAdjust="spacingAndGlyphs">Utah</text>
<text x="99.2" y="722.7" textLength="28.1" lengthAdjust="spacingAndGlyphs">Calif.</text>
<text x="210" y="762.9" textLength="25.4" lengthAdjust="spacingAndGlyphs">Ariz.</text>
<text x="294.7" y="680.5" textLength="29.8" lengthAdjust="spacingAndGlyphs">Colo.</text>
<text x="289.3" y="760.7" textLength="26.9" lengthAdjust="spacingAndGlyphs" fill="#fff" stroke="#fff">N.M.</text>
<text x="372.1" y="509.7" textLength="24.2" lengthAdjust="spacingAndGlyphs">N.D.</text>
<text x="373.8" y="571.3" textLength="22" lengthAdjust="spacingAndGlyphs">S.D.</text>
<text x="379.9" y="630" textLength="27.4" lengthAdjust="spacingAndGlyphs">Neb.</text>
<text x="453.2" y="535.9" textLength="33.5" lengthAdjust="spacingAndGlyphs">Minn.</text>
<text x="465.4" y="622.9" textLength="27.7" lengthAdjust="spacingAndGlyphs">Iowa</text>
<text x="478.5" y="674.6" textLength="22" lengthAdjust="spacingAndGlyphs">Mo.</text>
<text x="401.1" y="684.6" textLength="25.2" lengthAdjust="spacingAndGlyphs" fill="#fff" stroke="#fff">Kan.</text>
<text x="539.7" y="653.4" textLength="12.7" lengthAdjust="spacingAndGlyphs" fill="#fff" stroke="#fff">Ill.</text>
<text x="410.9" y="740.8" textLength="29.3" lengthAdjust="spacingAndGlyphs">Okla.</text>
<text x="485.4" y="748.6" textLength="22.8" lengthAdjust="spacingAndGlyphs">Ark.</text>
<text x="392.1" y="811" textLength="31.7" lengthAdjust="spacingAndGlyphs">Texas</text>
<text x="488.4" y="816.6" textLength="15.9" lengthAdjust="spacingAndGlyphs">La.</text>
<text x="523.8" y="785.3" textLength="28.4" lengthAdjust="spacingAndGlyphs">Miss.</text>
<text x="526.5" y="570.9" textLength="23.2" lengthAdjust="spacingAndGlyphs" fill="#fff" stroke="#fff">Wis.</text>
<text x="597.3" y="602.8" textLength="31.8" lengthAdjust="spacingAndGlyphs" fill="#fff" stroke="#fff">Mich.</text>
<text x="577.3" y="657.3" textLength="22" lengthAdjust="spacingAndGlyphs">Ind.</text>
<text x="621.3" y="653.4" textLength="28.1" lengthAdjust="spacingAndGlyphs">Ohio</text>
<text x="649" y="683.7" textLength="31" lengthAdjust="spacingAndGlyphs">W.Va.</text>
<text x="775.9" y="532" textLength="15.9" lengthAdjust="spacingAndGlyphs">Vt.</text>
<text x="816.2" y="558.8" textLength="36.2" lengthAdjust="spacingAndGlyphs" fill="#fff" stroke="#fff">Maine</text>
<text x="737.3" y="603.2" textLength="21" lengthAdjust="spacingAndGlyphs">N.Y.</text>
<text x="785.7" y="596.8" textLength="23.2" lengthAdjust="spacingAndGlyphs">N.H.</text>
<text x="833.3" y="611.2" textLength="31.8" lengthAdjust="spacingAndGlyphs">Mass.</text>
<text x="701" y="639.8" textLength="16.8" lengthAdjust="spacingAndGlyphs">Pa.</text>
<text x="766.6" y="657.3" textLength="19.8" lengthAdjust="spacingAndGlyphs">N.J.</text>
<text x="797.4" y="657.3" textLength="34.7" lengthAdjust="spacingAndGlyphs">Conn.</text>
<text x="844.3" y="657.3" textLength="16.4" lengthAdjust="spacingAndGlyphs">R.I.</text>
<text x="787.4" y="690.6" textLength="22" lengthAdjust="spacingAndGlyphs">Del.</text>
<text x="752.9" y="712.8" textLength="21.4" lengthAdjust="spacingAndGlyphs">Md.</text>
<text x="692.8" y="703.2" textLength="16.8" lengthAdjust="spacingAndGlyphs">Va.</text>
<text x="601.1" y="702.2" textLength="16.6" lengthAdjust="spacingAndGlyphs">Ky.</text>
<text x="565.2" y="733.9" textLength="31" lengthAdjust="spacingAndGlyphs">Tenn.</text>
<text x="689.6" y="742.5" textLength="23.2" lengthAdjust="spacingAndGlyphs">N.C.</text>
<text x="659" y="768.2" textLength="21.1" lengthAdjust="spacingAndGlyphs">S.C.</text>
<text x="620.7" y="791.4" textLength="19" lengthAdjust="spacingAndGlyphs">Ga.</text>
<text x="567.6" y="785.8" textLength="21.3" lengthAdjust="spacingAndGlyphs">Ala.</text>
<text x="644.6" y="861" textLength="18.8" lengthAdjust="spacingAndGlyphs">Fla.</text>
<text x="100" y="842.9" textLength="38.3" lengthAdjust="spacingAndGlyphs">Alaska</text>
<text x="240" y="886.3" textLength="39.3" lengthAdjust="spacingAndGlyphs">Hawaii</text>
</g>
</svg>
</body></html>
